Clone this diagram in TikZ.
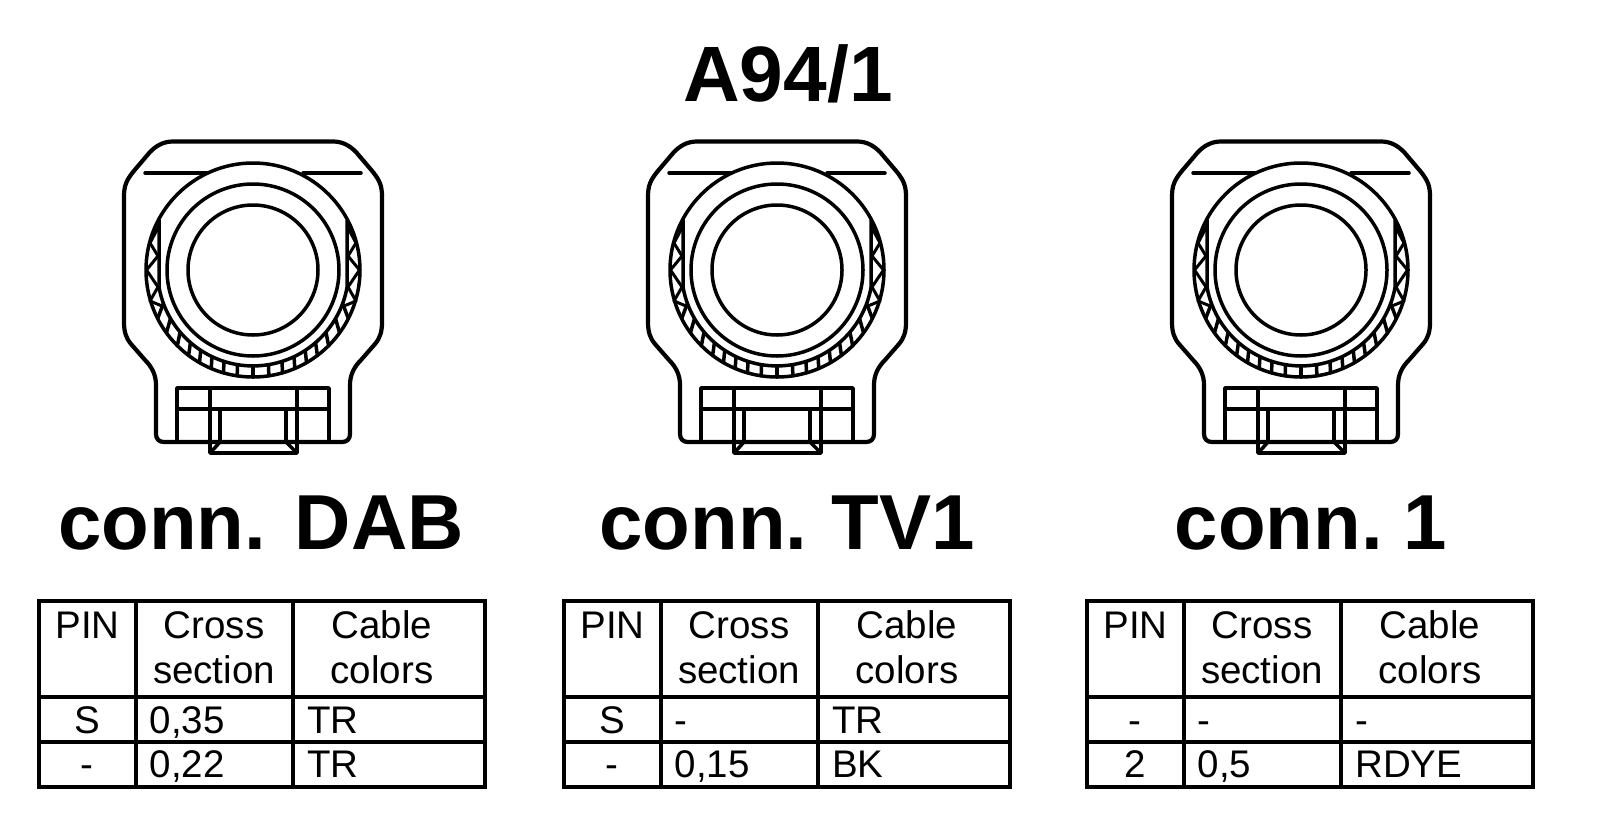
\documentclass[tikz,border=0pt]{standalone}
\usepackage{fontspec}
\setmainfont{Liberation Sans}
\tikzset{
  body/.style={line width=4.2pt,line join=round,line cap=round},
  thin part/.style={line width=3.5pt,line join=round,line cap=round},
  grid line/.style={line width=3.8pt},
  frame line/.style={line width=4.8pt},
  cell/.style={font=\fontsize{38.5}{45}\selectfont,anchor=base,inner sep=0pt},
  celll/.style={cell,anchor=base west},
  conn title/.style={font=\fontsize{78}{85}\bfseries\selectfont,anchor=base,inner sep=0pt},
  main title/.style={font=\fontsize{78.5}{90}\bfseries\selectfont,anchor=base,inner sep=0pt}
}
\newcommand{\housing}[1]{%
\begin{scope}[shift={(#1,0)}]
  \draw[body] (-80,141.5) -- (80,141.5) .. controls (90,141.5) and (97,146) .. (103,152)
    -- (120,172) .. controls (127,181) and (129,186) .. (129,197) -- (129,322)
    .. controls (129,332) and (127,338) .. (122,344)
    -- (108,360) .. controls (101,367) and (97,375) .. (97,385)
    -- (97,434) .. controls (97,439) and (94,442) .. (89,442)
    -- (-89,442) .. controls (-94,442) and (-97,439) .. (-97,434)
    -- (-97,385) .. controls (-97,375) and (-101,367) .. (-108,360)
    -- (-122,344) .. controls (-127,338) and (-129,332) .. (-129,322)
    -- (-129,197) .. controls (-129,186) and (-127,181) .. (-120,172)
    -- (-103,152) .. controls (-97,146) and (-90,141.5) .. (-80,141.5) -- cycle;
  % horizontal line behind the ring
  \draw[thin part] (-108,173) -- (-46,173) (50,173) -- (108,173);
  % rings
  \begin{scope}[shift={(0,270)}]
    \draw[thin part] (0,0) circle[radius=65];
    \draw[thin part] (0,0) circle[radius=86];
    \draw[thin part] (0,0) circle[radius=107];
    \draw[thin part] (-94,-50) -- (-94,17) arc[start angle=170,end angle=10,radius=95.5] -- (94,-50);
    \foreach \a in {27,36,45,53,60,67,74,81.5,90,98.5,106,113,120,127,135,144,153}{
      \pgfmathsetmacro{\b}{90+(\a-90)*1.1}
      \draw[thin part] (\a:107) -- (\b:96);
    }
    \foreach \s in {-1,1}
      \draw[thin part,line width=3pt] (\s*94,-44) -- (\s*103,-27) -- (\s*95,-14) -- (\s*106.5,0)
        -- (\s*95,17) -- (\s*103,31) -- (\s*91,36);
  \end{scope}
  % latch block
  \draw[thin part] (-76,442) -- (-76,388) -- (76,388) -- (76,442);
  \draw[thin part] (-76,409) -- (76,409);
  \draw[thin part] (-33,409) -- (-33,442) (33,409) -- (33,442);
  \draw[thin part] (-43,388) -- (-43,453) -- (44,453) -- (44,388);
  \draw[thin part] (-33,442) -- (-42,452) (33,442) -- (43,452);
\end{scope}}
\newcommand{\pintable}[8]{%
\begin{scope}[shift={(#2,0)}]
  \draw[frame line] (0,601) rectangle (446,787);
  \draw[grid line] (97,601) -- (97,787) (254,601) -- (254,787)
    (0,697) -- (446,697) (0,742) -- (446,742);
  \node[cell] (#1pin) at (48.5,638) {PIN};
  \node[cell] (#1crossa) at (175,638) {Cross};
  \node[cell] (#1crossb) at (175,683) {section};
  \node[cell] (#1cablea) at (343,638) {Cable};
  \node[cell] (#1cableb) at (343,683) {colors};
  \node[cell] (#1pa) at (48,733) {#3};
  \node[celll] (#1ca) at (110.5,733) {#4};
  \node[celll] (#1ka) at (268,733) {#5};
  \node[cell] (#1pb) at (48,777) {#6};
  \node[celll] (#1cb) at (110.5,777) {#7};
  \node[celll] (#1kb) at (268,777) {#8};
\end{scope}}
\begin{document}
\begin{tikzpicture}[x=1pt,y=1pt,yscale=-1]
  \useasboundingbox (0,0) rectangle (1600,830);
  \node[main title] (title) at (788,101) {A94/1};
  \housing{253}
  \housing{777}
  \housing{1301}
  \node[conn title] (dab) at (261,549) {conn. DAB};
  \node[conn title] (tv) at (787,549) {conn.\hspace{-5pt} TV1};
  \node[conn title] (one) at (1311,549) {conn.\hspace{-8pt} 1};
  \pintable{a}{39}{S}{0,35}{TR}{-}{0,22}{TR}
  \pintable{b}{564}{S}{-}{TR}{-}{0,15}{BK}
  \pintable{c}{1087}{-}{-}{-}{2}{0,5}{RDYE}
\end{tikzpicture}
\end{document}
